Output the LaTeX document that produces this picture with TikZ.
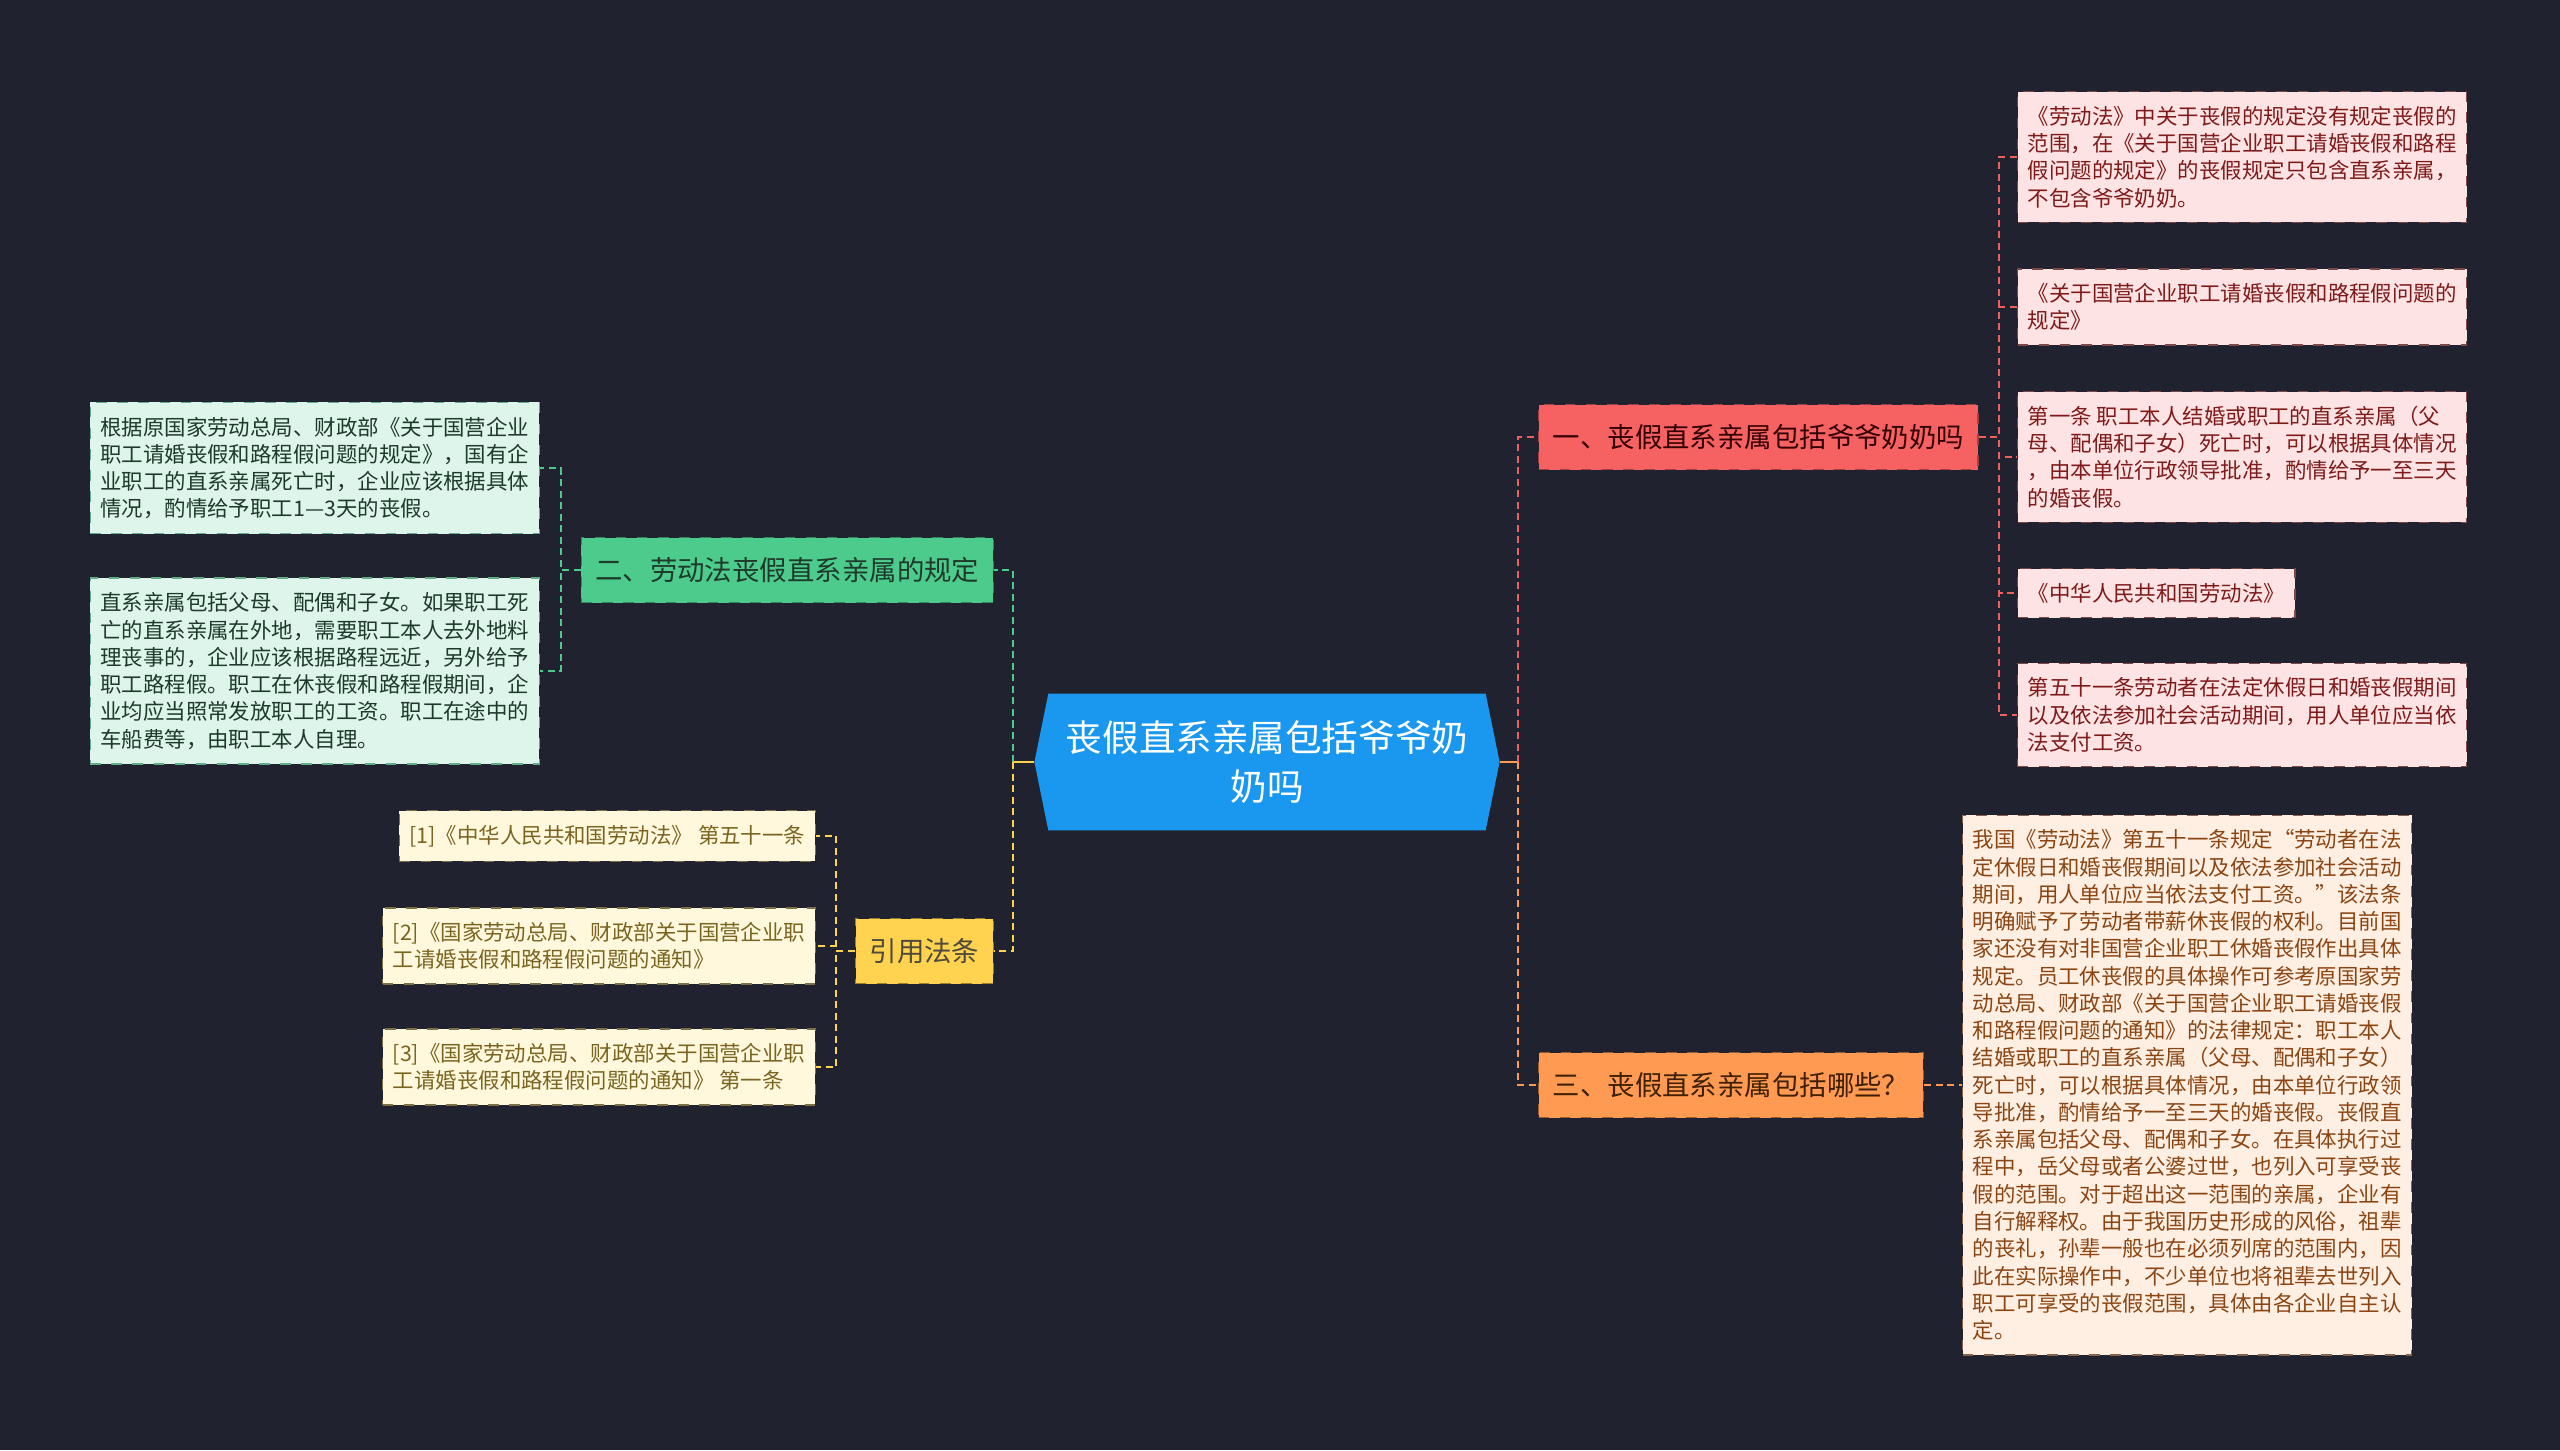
\documentclass[tikz,border=0pt]{standalone}
\usepackage{fontspec}
\newfontfamily\cjkfont{Noto Sans CJK SC}
\usetikzlibrary{shapes.symbols}

\definecolor{bgnavy}{HTML}{20232F}
\definecolor{rootblue}{HTML}{1A97EE}
\definecolor{redfill}{HTML}{F66262}
\definecolor{redline}{HTML}{EE6060}
\definecolor{redleaf}{HTML}{FDE3E3}
\definecolor{redtext}{HTML}{7F1A1A}
\definecolor{greenfill}{HTML}{4CCB8C}
\definecolor{greenleaf}{HTML}{DDF5EA}
\definecolor{greentext}{HTML}{1E3A2B}
\definecolor{yellowfill}{HTML}{FFD34F}
\definecolor{yellowleaf}{HTML}{FFF8DC}
\definecolor{yellowtext}{HTML}{7A6420}
\definecolor{orangefill}{HTML}{FF9A52}
\definecolor{orangeleaf}{HTML}{FFEFE3}
\definecolor{orangetext}{HTML}{8B4513}

\begin{document}
\begin{tikzpicture}[
  x=0.01cm, y=-0.01cm,
  root/.style={signal, signal to=west and east, signal pointer angle=157,
               fill=rootblue, text=white, align=center,
               inner xsep=0.175cm, inner ysep=0.27cm,
               font=\cjkfont\fontsize{10.4}{13.9}\selectfont},
  topic/.style={draw, dashed, line width=0.4pt, inner xsep=0.14cm,
                minimum height=0.65cm,
                font=\cjkfont\fontsize{7.8}{9.5}\selectfont},
  leaf/.style={draw, dashed, line width=0.4pt, align=left,
               inner xsep=0.1cm, inner ysep=0.145cm,
               font=\cjkfont\fontsize{6.1}{7.75}\selectfont},
  rtopic/.style={topic, fill=redfill, draw=redfill!65!black, text=black!80!red},
  gtopic/.style={topic, fill=greenfill, draw=greenfill!65!black, text=greentext},
  ytopic/.style={topic, fill=yellowfill, draw=yellowfill!60!black, text=black!80!yellow},
  otopic/.style={topic, fill=orangefill, draw=orangefill!60!black, text=black!75!orange},
  rleaf/.style={leaf, fill=redleaf, draw=redtext!55!gray, text=redtext},
  gleaf/.style={leaf, fill=greenleaf, draw=greenfill!60!gray, text=greentext},
  yleaf/.style={leaf, fill=yellowleaf, draw=yellowtext!60!gray, text=yellowtext},
  oleaf/.style={leaf, fill=orangeleaf, draw=orangetext!50!gray, text=orangetext},
  link/.style={dash pattern=on 0.07cm off 0.045cm, line width=0.6pt},
]
\fill[bgnavy] (0,0) rectangle (2560,1450);
\useasboundingbox (0,0) rectangle (2560,1450);

\node[root] (root) at (1267,762) {丧假直系亲属包括爷爷奶\\奶吗};
\coordinate (lj) at (1013,762);
\coordinate (rj) at (1518,762);

% first level
\node[rtopic, anchor=west] (yeye)  at (1538,437)  {一、丧假直系亲属包括爷爷奶奶吗};
\node[otopic, anchor=west] (which) at (1538,1085) {三、丧假直系亲属包括哪些？};
\node[gtopic, anchor=east] (law)   at (994,570)   {二、劳动法丧假直系亲属的规定};
\node[ytopic, anchor=east] (cite)  at (994,951)   {引用法条};

% leaves of the red topic
\node[rleaf, anchor=west] (r1) at (2017,157) {《劳动法》中关于丧假的规定没有规定丧假的\\范围，在《关于国营企业职工请婚丧假和路程\\假问题的规定》的丧假规定只包含直系亲属，\\不包含爷爷奶奶。};
\node[rleaf, anchor=west] (r2) at (2017,307) {《关于国营企业职工请婚丧假和路程假问题的\\规定》};
\node[rleaf, anchor=west] (r3) at (2017,457) {第一条 职工本人结婚或职工的直系亲属（父\\母、配偶和子女）死亡时，可以根据具体情况\\，由本单位行政领导批准，酌情给予一至三天\\的婚丧假。};
\node[rleaf, anchor=west] (r4) at (2017,593) {《中华人民共和国劳动法》};
\node[rleaf, anchor=west] (r5) at (2017,715) {第五十一条劳动者在法定休假日和婚丧假期间\\以及依法参加社会活动期间，用人单位应当依\\法支付工资。};

% leaf of the orange topic
\node[oleaf, anchor=west] (o1) at (1962,1085) {我国《劳动法》第五十一条规定“劳动者在法\\定休假日和婚丧假期间以及依法参加社会活动\\期间，用人单位应当依法支付工资。”该法条\\明确赋予了劳动者带薪休丧假的权利。目前国\\家还没有对非国营企业职工休婚丧假作出具体\\规定。员工休丧假的具体操作可参考原国家劳\\动总局、财政部《关于国营企业职工请婚丧假\\和路程假问题的通知》的法律规定：职工本人\\结婚或职工的直系亲属（父母、配偶和子女）\\死亡时，可以根据具体情况，由本单位行政领\\导批准，酌情给予一至三天的婚丧假。丧假直\\系亲属包括父母、配偶和子女。在具体执行过\\程中，岳父母或者公婆过世，也列入可享受丧\\假的范围。对于超出这一范围的亲属，企业有\\自行解释权。由于我国历史形成的风俗，祖辈\\的丧礼，孙辈一般也在必须列席的范围内，因\\此在实际操作中，不少单位也将祖辈去世列入\\职工可享受的丧假范围，具体由各企业自主认\\定。};

% leaves of the green topic
\node[gleaf, anchor=east] (g1) at (540,468) {根据原国家劳动总局、财政部《关于国营企业\\职工请婚丧假和路程假问题的规定》，国有企\\业职工的直系亲属死亡时，企业应该根据具体\\情况，酌情给予职工1—3天的丧假。};
\node[gleaf, anchor=east] (g2) at (540,671) {直系亲属包括父母、配偶和子女。如果职工死\\亡的直系亲属在外地，需要职工本人去外地料\\理丧事的，企业应该根据路程远近，另外给予\\职工路程假。职工在休丧假和路程假期间，企\\业均应当照常发放职工的工资。职工在途中的\\车船费等，由职工本人自理。};

% leaves of the yellow topic
\node[yleaf, anchor=east] (c1) at (816,836)  {[1]《中华人民共和国劳动法》 第五十一条};
\node[yleaf, anchor=east] (c2) at (816,946)  {[2]《国家劳动总局、财政部关于国营企业职\\工请婚丧假和路程假问题的通知》};
\node[yleaf, anchor=east] (c3) at (816,1067) {[3]《国家劳动总局、财政部关于国营企业职\\工请婚丧假和路程假问题的通知》 第一条};

% root to first level
\draw[yellowfill, line width=0.6pt] (root.west) -- (lj);
\draw[orangefill, line width=0.6pt] (root.east) -- (rj);
\draw[link, greenfill]  (lj) |- (law.east);
\draw[link, yellowfill] (lj) |- (cite.east);
\draw[link, redline]    (rj) |- (yeye.west);
\draw[link, orangefill] (rj) |- (which.west);
% first level to leaves
\draw[link, redline] (yeye.east) -- ++(20,0) |- (r1.west);
\draw[link, redline] (yeye.east) -- ++(20,0) |- (r2.west);
\draw[link, redline] (yeye.east) -- ++(20,0) |- (r3.west);
\draw[link, redline] (yeye.east) -- ++(20,0) |- (r4.west);
\draw[link, redline] (yeye.east) -- ++(20,0) |- (r5.west);
\draw[link, orangefill] (which.east) -- (o1.west);
\draw[link, greenfill] (law.west) -- ++(-20,0) |- (g1.east);
\draw[link, greenfill] (law.west) -- ++(-20,0) |- (g2.east);
\draw[link, yellowfill] (cite.west) -- ++(-19,0) |- (c1.east);
\draw[link, yellowfill] (cite.west) -- ++(-19,0) |- (c2.east);
\draw[link, yellowfill] (cite.west) -- ++(-19,0) |- (c3.east);
\end{tikzpicture}
\end{document}
